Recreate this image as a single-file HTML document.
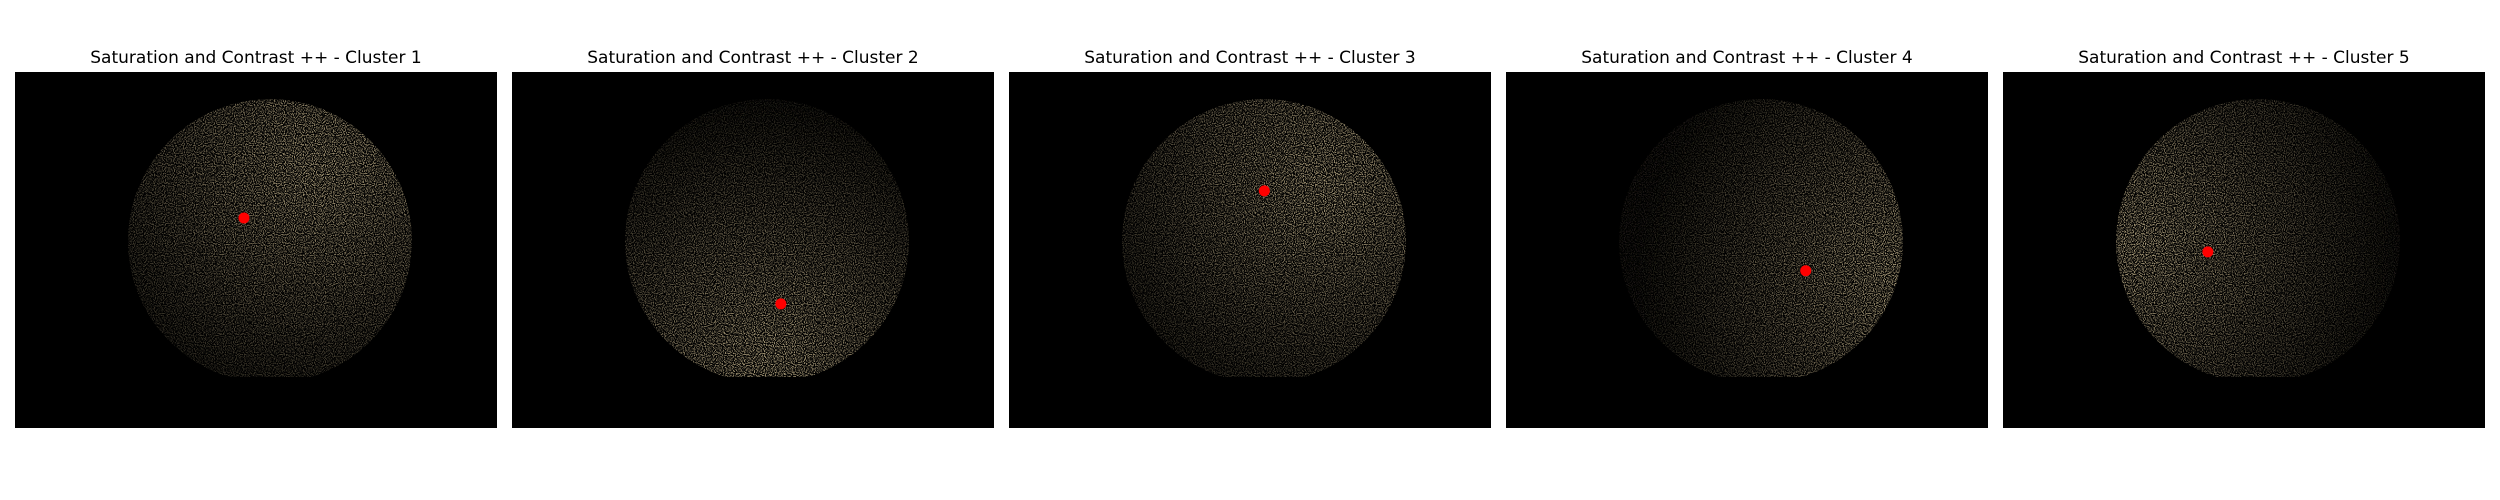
<!DOCTYPE html>
<html><head><meta charset="utf-8"><style>
html,body{margin:0;padding:0;background:#fff;}
svg{display:block;}
text{font-family:"DejaVu Sans","Liberation Sans",sans-serif;}
</style></head><body>
<svg id="fig" width="2500" height="500" viewBox="0 0 2500 500">
<defs>
<filter id="speck" x="0" y="0" width="100%" height="100%">
<feTurbulence type="fractalNoise" baseFrequency="0.9" numOctaves="1" seed="3" result="n"/>
<feColorMatrix in="n" type="matrix" values="0 0 0 0 0  0 0 0 0 0  0 0 0 0 0  0 0 0 -6 3.2" result="m"/>
<feComposite in="SourceGraphic" in2="m" operator="in"/>
</filter>
</defs>
</svg>
<script>
// Cluster data (image pixel coordinates, image 640 x 473)
const clusterTitles = ["Saturation and Contrast ++ - Cluster 1","Saturation and Contrast ++ - Cluster 2","Saturation and Contrast ++ - Cluster 3","Saturation and Contrast ++ - Cluster 4","Saturation and Contrast ++ - Cluster 5"];
const centroidX = [304, 357, 339, 398, 272];
const centroidY = [194, 308, 158, 264, 239];
// bright-region centre (image coords) per cluster
const glowX = [400, 340, 420, 520, 180];
const glowY = [130, 380, 150, 270, 230];

const IMG_W = 640, IMG_H = 473;
const panelLeft0 = 15, panelStep = 497, panelTop = 72, panelW = 482, panelH = 356;
const NS = "http://www.w3.org/2000/svg";
const svg = document.getElementById('fig');
const defs = svg.querySelector('defs');
function sx(i, v){ return panelLeft0 + i*panelStep + v/IMG_W*panelW; }
function sy(v){ return panelTop + v/IMG_H*panelH; }
function mk(tag, attrs, parent){ const e=document.createElementNS(NS,tag); for(const k in attrs) e.setAttribute(k, attrs[k]); (parent||svg).appendChild(e); return e; }

for (let i=0;i<clusterTitles.length;i++){
  const g = mk('g', {});
  
  
  const x0 = panelLeft0 + i*panelStep;
  const t = mk('text', {x: x0+panelW/2, y: 63, 'text-anchor':'middle', 'font-size':'17', fill:'#000'}, g);
  t.textContent = clusterTitles[i];
  
  
  const bg = mk('rect', {x:x0, y:panelTop, width:panelW, height:panelH, fill:'#000'}, g);
  
  
  const cp = mk('clipPath', {id:'cp'+i}, defs);
  mk('circle', {cx:x0+255, cy:241, r:142}, cp);
  const cp2 = mk('clipPath', {id:'cb'+i}, defs);
  mk('rect', {x:x0, y:panelTop, width:panelW, height:377-panelTop}, cp2);
  const rg = mk('radialGradient', {id:'rg'+i, gradientUnits:'userSpaceOnUse', cx:sx(i,glowX[i]), cy:sy(glowY[i]), r:260}, defs);
  mk('stop', {offset:'0', 'stop-color':'#a89a78'}, rg);
  mk('stop', {offset:'0.55', 'stop-color':'#5a5240'}, rg);
  mk('stop', {offset:'1', 'stop-color':'#1a1812'}, rg);
  const gg = mk('g', {'clip-path':'url(#cb'+i+')'}, g);
  const disc = mk('circle', {cx:x0+255, cy:241, r:142, fill:'url(#rg'+i+')', filter:'url(#speck)', 'clip-path':'url(#cp'+i+')'}, gg);
  
  
  const dot = mk('circle', {cx:sx(i,centroidX[i]), cy:sy(centroidY[i]), r:5.5, fill:'#ff0000'}, g);
  
  
}
</script>
</body></html>
